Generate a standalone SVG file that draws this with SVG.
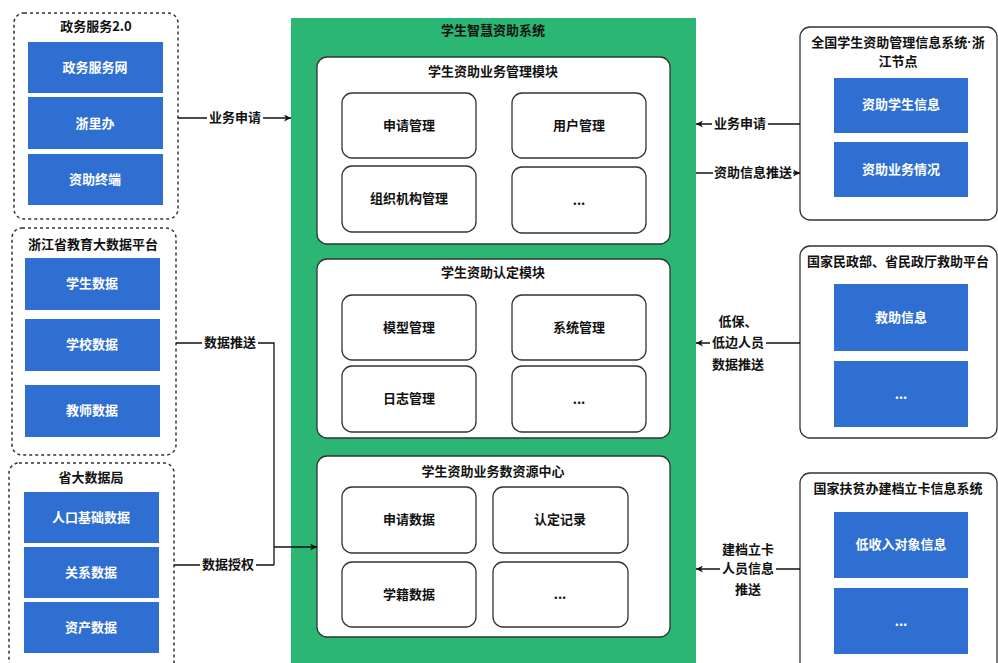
<svg xmlns="http://www.w3.org/2000/svg" width="998" height="663" viewBox="0 0 998 663">
<defs>
<marker id="ah" viewBox="0 0 10 10" refX="10" refY="5" markerWidth="7" markerHeight="7" orient="auto" markerUnits="userSpaceOnUse">
<path d="M0,0 L10,5 L0,10 L3,5 Z" fill="#111"/>
</marker>
</defs>
<style>
text{font-family:"Noto Sans CJK SC","Noto Sans",sans-serif;font-size:13px;text-anchor:middle;dominant-baseline:central;font-weight:bold;fill:#111;transform:translateY(-2px)}
.dot{font-family:"Liberation Sans",sans-serif}
.dash{fill:#fff;stroke:#333;stroke-width:1.5;stroke-dasharray:3 3}
.solid{fill:#fff;stroke:#333;stroke-width:1.3}
.blue{fill:#2f6fd2}
.bt{fill:#fff;font-weight:600}
.green{fill:#2bb673}
.mod{fill:#fff;stroke:#333;stroke-width:1.3}
.inner{fill:#fff;stroke:#333;stroke-width:1.3}
.ln{fill:none;stroke:#111;stroke-width:1.3}
.lbg{fill:#fff}
</style>
<rect width="998" height="663" fill="#fff"/>

<g id="gov">
<rect class="dash" x="14" y="13" width="164" height="206" rx="10"/>
<text x="96" y="27">政务服务2.0</text>
<rect class="blue" x="28" y="42" width="135" height="51"/><text class="bt" x="95" y="68">政务服务网</text>
<rect class="blue" x="28" y="97" width="135" height="52"/><text class="bt" x="95" y="124">浙里办</text>
<rect class="blue" x="28" y="154" width="135" height="51"/><text class="bt" x="95" y="180">资助终端</text>
</g>

<g id="edu">
<rect class="dash" x="12" y="228" width="164" height="227" rx="10"/>
<text x="93" y="245">浙江省教育大数据平台</text>
<rect class="blue" x="25" y="258" width="135" height="52"/><text class="bt" x="92" y="284">学生数据</text>
<rect class="blue" x="25" y="319" width="135" height="52"/><text class="bt" x="92" y="345">学校数据</text>
<rect class="blue" x="25" y="385" width="135" height="52"/><text class="bt" x="92" y="411">教师数据</text>
</g>

<g id="bigdata">
<rect class="dash" x="9" y="463" width="165" height="215" rx="10"/>
<text x="91" y="478">省大数据局</text>
<rect class="blue" x="24" y="492" width="135" height="51"/><text class="bt" x="91" y="518">人口基础数据</text>
<rect class="blue" x="24" y="547" width="135" height="51"/><text class="bt" x="91" y="573">关系数据</text>
<rect class="blue" x="24" y="602" width="135" height="51"/><text class="bt" x="91" y="628">资产数据</text>
</g>

<g id="system">
<rect class="green" x="291" y="18" width="405" height="650"/>
<text x="493" y="31">学生智慧资助系统</text>
</g>

<g id="mod1">
<rect class="mod" x="317" y="57" width="353" height="187" rx="10"/>
<text x="493" y="72">学生资助业务管理模块</text>
<rect class="inner" x="342" y="93" width="134" height="65" rx="10"/><text x="409" y="126">申请管理</text>
<rect class="inner" x="512" y="93" width="134" height="65" rx="10"/><text x="579" y="126">用户管理</text>
<rect class="inner" x="342" y="166" width="134" height="66" rx="10"/><text x="409" y="199">组织机构管理</text>
<rect class="inner" x="512" y="167" width="134" height="66" rx="10"/><text x="579" y="201">...</text>
</g>

<g id="mod2">
<rect class="mod" x="317" y="259" width="353" height="179" rx="10"/>
<text x="493" y="273">学生资助认定模块</text>
<rect class="inner" x="342" y="295" width="134" height="65" rx="10"/><text x="409" y="328">模型管理</text>
<rect class="inner" x="512" y="295" width="134" height="65" rx="10"/><text x="579" y="328">系统管理</text>
<rect class="inner" x="342" y="366" width="134" height="66" rx="10"/><text x="409" y="399">日志管理</text>
<rect class="inner" x="512" y="366" width="134" height="66" rx="10"/><text x="579" y="400">...</text>
</g>

<g id="mod3">
<rect class="mod" x="317" y="456" width="353" height="181" rx="10"/>
<text x="493" y="472">学生资助业务数资源中心</text>
<rect class="inner" x="342" y="487" width="134" height="66" rx="10"/><text x="409" y="520">申请数据</text>
<rect class="inner" x="493" y="487" width="135" height="66" rx="10"/><text x="560" y="520">认定记录</text>
<rect class="inner" x="342" y="562" width="134" height="65" rx="10"/><text x="409" y="595">学籍数据</text>
<rect class="inner" x="493" y="562" width="135" height="65" rx="10"/><text x="560" y="595">...</text>
</g>

<g id="national">
<rect class="solid" x="800" y="27" width="197" height="193" rx="10"/>
<text x="898" y="43">全国学生资助管理信息系统<tspan class="dot">·</tspan>浙</text>
<text x="898" y="62">江节点</text>
<rect class="blue" x="834" y="78" width="134" height="55"/><text class="bt" x="901" y="105">资助学生信息</text>
<rect class="blue" x="834" y="142" width="134" height="55"/><text class="bt" x="901" y="170">资助业务情况</text>
</g>

<g id="civil">
<rect class="solid" x="800" y="246" width="197" height="192" rx="10"/>
<text x="898" y="262">国家民政部、省民政厅救助平台</text>
<rect class="blue" x="834" y="284" width="134" height="67"/><text class="bt" x="901" y="318">救助信息</text>
<rect class="blue" x="834" y="361" width="134" height="66"/><text class="bt" x="901" y="395">...</text>
</g>

<g id="poverty">
<rect class="solid" x="800" y="473" width="197" height="205" rx="10"/>
<text x="898" y="489">国家扶贫办建档立卡信息系统</text>
<rect class="blue" x="834" y="512" width="134" height="66"/><text class="bt" x="901" y="545">低收入对象信息</text>
<rect class="blue" x="834" y="588" width="134" height="66"/><text class="bt" x="901" y="622">...</text>
</g>

<g id="connectors">
<path class="ln" d="M178,118 L291,118" marker-end="url(#ah)"/>
<rect class="lbg" x="207" y="110" width="56" height="16"/>
<text x="235" y="118">业务申请</text>

<path class="ln" d="M176,343 L274,343 L274,565 M174,565 L274,565"/>
<path class="ln" d="M274,547 L317,547" marker-end="url(#ah)"/>
<rect class="lbg" x="202" y="335" width="56" height="16"/>
<text x="230" y="343">数据推送</text>
<rect class="lbg" x="200" y="557" width="56" height="16"/>
<text x="228" y="565">数据授权</text>

<path class="ln" d="M800,124 L696,124" marker-end="url(#ah)"/>
<rect class="lbg" x="712" y="116" width="56" height="16"/>
<text x="740" y="124">业务申请</text>

<path class="ln" d="M696,173 L800,173" marker-end="url(#ah)"/>
<rect class="lbg" x="713" y="165" width="80" height="16"/>
<text x="753" y="173">资助信息推送</text>

<path class="ln" d="M800,343 L696,343" marker-end="url(#ah)"/>
<rect class="lbg" x="710" y="313" width="56" height="62"/>
<text x="738" y="322">低保、</text>
<text x="738" y="343">低边人员</text>
<text x="738" y="365">数据推送</text>

<path class="ln" d="M800,569 L696,569" marker-end="url(#ah)"/>
<rect class="lbg" x="720" y="541" width="56" height="60"/>
<text x="748" y="550">建档立卡</text>
<text x="748" y="569">人员信息</text>
<text x="748" y="590">推送</text>
</g>
</svg>
